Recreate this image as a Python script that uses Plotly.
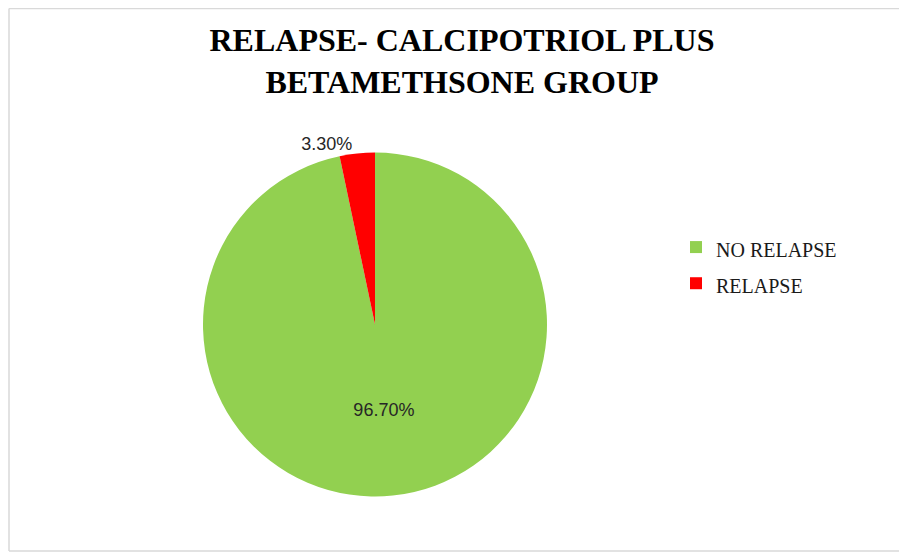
import plotly.graph_objects as go

categories = ["NO RELAPSE", "RELAPSE"]
values = [96.70, 3.30]
value_labels = ["96.70%", "3.30%"]
colors = ["#92D050", "#FF0000"]
title_text = "RELAPSE- CALCIPOTRIOL PLUS<br>BETAMETHSONE GROUP"

OFF = 8  # page body margin
W, H = 907 - OFF, 552 - OFF  # figure fits in the window without overflow


def px_x(sx):
    return (sx - OFF) / W


def px_y(sy):
    return 1 - (sy - OFF) / H


legend_labels = ["<span style='font-size:20px'>" + c + "</span>" for c in categories]

fig = go.Figure(
    go.Pie(
        labels=legend_labels,
        values=values,
        text=value_labels,
        textinfo="text",
        hoverinfo="text+value",
        textposition=["inside", "outside"],
        insidetextfont=dict(family="Liberation Sans", size=18, color="#262626"),
        outsidetextfont=dict(family="Liberation Sans", size=18, color="#262626"),
        marker=dict(colors=colors, line=dict(width=0)),
        sort=False,
        direction="clockwise",
        rotation=0,
        showlegend=True,
        domain=dict(x=[px_x(203), px_x(547)], y=[px_y(497), px_y(152)]),
        insidetextorientation="horizontal",
    )
)

border = dict(color="#D9D9D9", width=1.5)
x_left = px_x(9)
y_top = 1 - 0.5 / H
y_bot = px_y(551)

fig.update_layout(
    width=W,
    height=H,
    margin=dict(l=0, r=0, t=0, b=0),
    paper_bgcolor="white",
    plot_bgcolor="white",
    title=dict(
        text="<b>" + title_text + "</b>",
        font=dict(family="Liberation Serif", size=32, color="#000000"),
        x=px_x(462),
        xanchor="center",
        y=1 - 43 / H,
        yanchor="middle",
        xref="container",
        yref="container",
    ),
    legend=dict(
        font=dict(family="Liberation Serif", size=25.5, color="#1a1a1a"),
        x=px_x(676),
        xanchor="left",
        y=px_y(265.5),
        yanchor="middle",
        bgcolor="rgba(0,0,0,0)",
    ),
    shapes=[
        dict(type="line", xref="paper", yref="paper", x0=x_left, x1=1.0, y0=y_top, y1=y_top, line=border, layer="below"),
        dict(type="line", xref="paper", yref="paper", x0=x_left, x1=x_left, y0=y_bot, y1=y_top, line=border, layer="below"),
        dict(type="line", xref="paper", yref="paper", x0=x_left, x1=1.0, y0=y_bot, y1=y_bot, line=border, layer="below"),
    ],
)

fig.write_html("out.html")
